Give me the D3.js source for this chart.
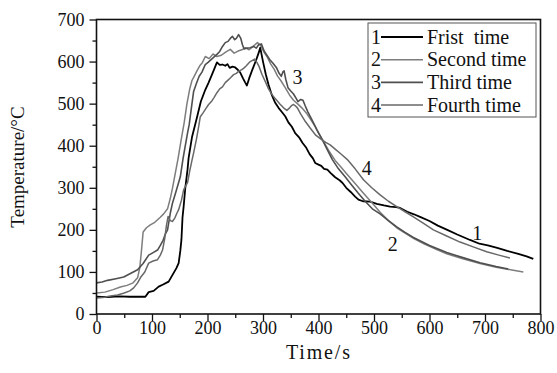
<!DOCTYPE html>
<html>
<head>
<meta charset="utf-8">
<script src="https://cdn.jsdelivr.net/npm/d3@7"></script>
<style>
body { margin: 0; background: #fff; }
text { font-family: "Liberation Serif", Tinos, "Times New Roman", Times, "DejaVu Serif", serif; fill: #111; }
</style>
</head>
<body>
<svg id="chart" width="557" height="373"></svg>
<script>
// readings of the four runs, [time s, temperature C]
const run1 = [[0,41],[20,40],[40,42],[60,41],[88,41],[94,52],[103,55],[112,65],[120,70],[130,77],[137,93],[144,109],[148,121],[151,150],[153,176],[155,230],[157,255],[160,300],[164,343],[166,371],[172,420],[181,467],[188,505],[196,533],[202,550],[208,569],[213,585],[217,598],[222,592],[227,593],[232,590],[236,594],[240,585],[245,588],[250,586],[255,580],[259,574],[264,560],[268,550],[271,543],[275,560],[280,578],[283,588],[288,605],[292,620],[295,633],[300,600],[305,570],[310,545],[316,520],[322,502],[328,490],[334,480],[340,470],[346,455],[352,445],[358,430],[365,420],[371,407],[378,395],[384,380],[390,370],[394,359],[400,355],[405,352],[410,345],[416,343],[422,335],[430,325],[438,318],[443,312],[450,300],[458,290],[466,279],[472,272],[480,268],[493,267],[505,262],[518,258],[529,255],[540,254],[547,252],[560,243],[572,237],[583,231],[600,221],[615,210],[632,200],[650,189],[673,176],[690,167],[705,163],[722,157],[740,150],[760,143],[775,137],[787,131]];

const run2 = [[0,50],[15,52],[30,58],[43,64],[55,68],[66,74],[74,86],[78,110],[81,150],[84,195],[90,205],[97,212],[105,218],[115,230],[121,238],[128,250],[133,275],[137,300],[142,335],[147,370],[152,410],[158,455],[163,500],[168,535],[172,555],[176,565],[181,578],[186,590],[191,598],[196,612],[203,607],[210,618],[217,612],[225,615],[232,622],[241,629],[248,620],[255,625],[262,628],[268,633],[275,628],[282,636],[290,645],[296,638],[302,622],[308,610],[314,594],[320,582],[326,566],[332,555],[340,538],[348,520],[355,508],[362,500],[370,490],[378,478],[386,462],[393,448],[400,430],[410,408],[420,385],[430,365],[440,350],[451,333],[466,310],[481,287],[496,265],[511,242],[526,222],[541,205],[556,192],[571,180],[590,167],[610,155],[631,143],[660,131],[691,120],[720,111],[751,104],[769,100]];

const run3 = [[0,74],[10,76],[20,80],[35,84],[49,88],[62,97],[74,105],[84,120],[94,140],[102,146],[110,152],[115,163],[120,175],[124,190],[128,200],[133,240],[137,264],[143,290],[151,326],[156,370],[160,400],[164,430],[167,450],[171,490],[175,529],[180,548],[185,565],[190,575],[196,593],[201,598],[207,605],[212,611],[217,617],[222,624],[227,636],[232,645],[237,648],[241,655],[245,660],[249,652],[252,655],[256,664],[260,655],[263,640],[266,630],[271,632],[277,633],[283,636],[288,632],[292,640],[297,642],[302,625],[307,615],[312,605],[318,596],[324,586],[329,572],[333,565],[336,576],[338,578],[341,558],[345,538],[350,530],[355,523],[360,512],[363,505],[368,510],[372,508],[376,495],[381,480],[388,462],[397,438],[407,414],[416,390],[425,367],[436,345],[448,326],[460,306],[471,288],[484,268],[497,250],[511,238],[526,222],[541,207],[556,194],[571,182],[600,163],[631,146],[660,134],[691,122],[720,113],[742,107]];

const run4 = [[0,38],[15,40],[25,43],[38,45],[50,50],[60,55],[67,62],[74,74],[80,88],[87,100],[94,121],[102,126],[110,129],[115,140],[119,152],[123,180],[126,210],[129,232],[133,222],[137,220],[141,228],[145,240],[148,248],[153,270],[157,295],[161,305],[164,312],[168,340],[172,365],[175,383],[180,415],[184,445],[187,469],[192,478],[197,488],[202,498],[207,505],[212,515],[217,526],[222,535],[227,540],[232,550],[237,556],[242,562],[247,569],[252,572],[257,578],[262,581],[266,585],[270,590],[274,596],[277,600],[281,603],[285,606],[289,598],[293,588],[298,570],[304,553],[310,535],[316,522],[322,512],[330,500],[337,490],[343,484],[348,490],[352,496],[355,498],[359,494],[362,490],[368,475],[375,460],[385,442],[395,425],[405,415],[413,408],[421,402],[430,392],[440,381],[452,367],[466,345],[481,319],[496,300],[511,283],[526,268],[541,255],[556,243],[571,231],[590,215],[607,200],[630,186],[655,171],[680,159],[703,148],[725,140],[745,133]];

const legendNames = ["Frist\u00a0 time", "Second time", "Third time", "Fourth time"];
const curveTags = ["1", "2", "3", "4"];
// where the number tags sit on the curves
const tagAt = [[686, 176], [534, 150], [362, 547], [487, 330]];

const xTicks = [0, 100, 200, 300, 400, 500, 600, 700, 800];
const xMinor = [50, 150, 250, 350, 450, 550, 650, 750];
const yTicks = [0, 100, 200, 300, 400, 500, 600, 700];
const yMinor = [50, 150, 250, 350, 450, 550, 650];

const colors = ["#000000", "#7d7d7d", "#4f4f4f", "#686868"];
const widths = [1.8, 1.5, 1.6, 1.5];
const runs = [run1, run2, run3, run4];

const svg = d3.select("#chart");

var x = d3.scaleLinear().domain([0, 800]).range([96.5, 540.5]);
var y = d3.scaleLinear().domain([0, 700]).range([314, 19.5]);

// axes
svg.append("g")
    .attr("transform", "translate(0,314)")
    .call(d3.axisBottom(x).tickValues(xTicks).tickSize(7).tickPadding(0).tickFormat(d3.format("d")));
svg.append("g")
    .attr("transform", "translate(0,314)")
    .call(d3.axisBottom(x).tickValues(xMinor).tickSize(4).tickFormat(""));
svg.append("g")
    .attr("transform", "translate(96.5,0)")
    .call(d3.axisLeft(y).tickValues(yTicks).tickSize(7).tickPadding(5).tickFormat(d3.format("d")));
svg.append("g")
    .attr("transform", "translate(96.5,0)")
    .call(d3.axisLeft(y).tickValues(yMinor).tickSize(4).tickFormat(""));

svg.selectAll("g").attr("font-family", null);
svg.selectAll(".domain").remove();
svg.selectAll(".tick line").attr("stroke", "#111").attr("stroke-width", 1.3);
svg.selectAll(".tick text").attr("font-size", 18).attr("fill", "#111");

// curves
var line = d3.line().x(d => x(d[0])).y(d => y(d[1]));
runs.forEach((r, i) => {
    svg.append("path")
        .datum(r)
        .attr("d", line)
        .attr("fill", "none")
        .attr("stroke", colors[i])
        .attr("stroke-width", widths[i])
        .attr("stroke-linejoin", "round");
});

// frame
svg.append("rect")
    .attr("x", 96.5).attr("y", 19.5)
    .attr("width", 444).attr("height", 294.5)
    .attr("fill", "none")
    .attr("stroke", "#111")
    .attr("stroke-width", 1.6);

// curve tags
tagAt.forEach((p, i) => {
    svg.append("text")
        .attr("x", x(p[0])).attr("y", y(p[1]))
        .attr("text-anchor", "middle")
        .attr("font-size", 20)
        .text(curveTags[i]);
});

// legend
var lg = svg.append("g").attr("transform", "translate(368,23)");
lg.append("rect")
    .attr("width", 168).attr("height", 94)
    .attr("fill", "#fff")
    .attr("stroke", "#555")
    .attr("stroke-width", 1);
legendNames.forEach((name, i) => {
    var by = 20.5 + i * 22.7;
    lg.append("text").attr("x", 3).attr("y", by).attr("font-size", 20).text(curveTags[i]);
    lg.append("line")
        .attr("x1", 13).attr("x2", 55)
        .attr("y1", by - 6.5).attr("y2", by - 6.5)
        .attr("stroke", colors[i]).attr("stroke-width", widths[i]);
    lg.append("text").attr("x", 59).attr("y", by).attr("font-size", 20)
        .style("white-space", "pre").text(name);
});

// axis titles
svg.append("text")
    .attr("x", 318).attr("y", 359)
    .attr("text-anchor", "middle")
    .attr("font-size", 20)
    .attr("textLength", 64)
    .attr("lengthAdjust", "spacing")
    .text("Time/s");
svg.append("text")
    .attr("transform", "translate(24,167) rotate(-90)")
    .attr("text-anchor", "middle")
    .attr("font-size", 19)
    .text("Temperature/\u00b0C");
</script>
</body>
</html>
